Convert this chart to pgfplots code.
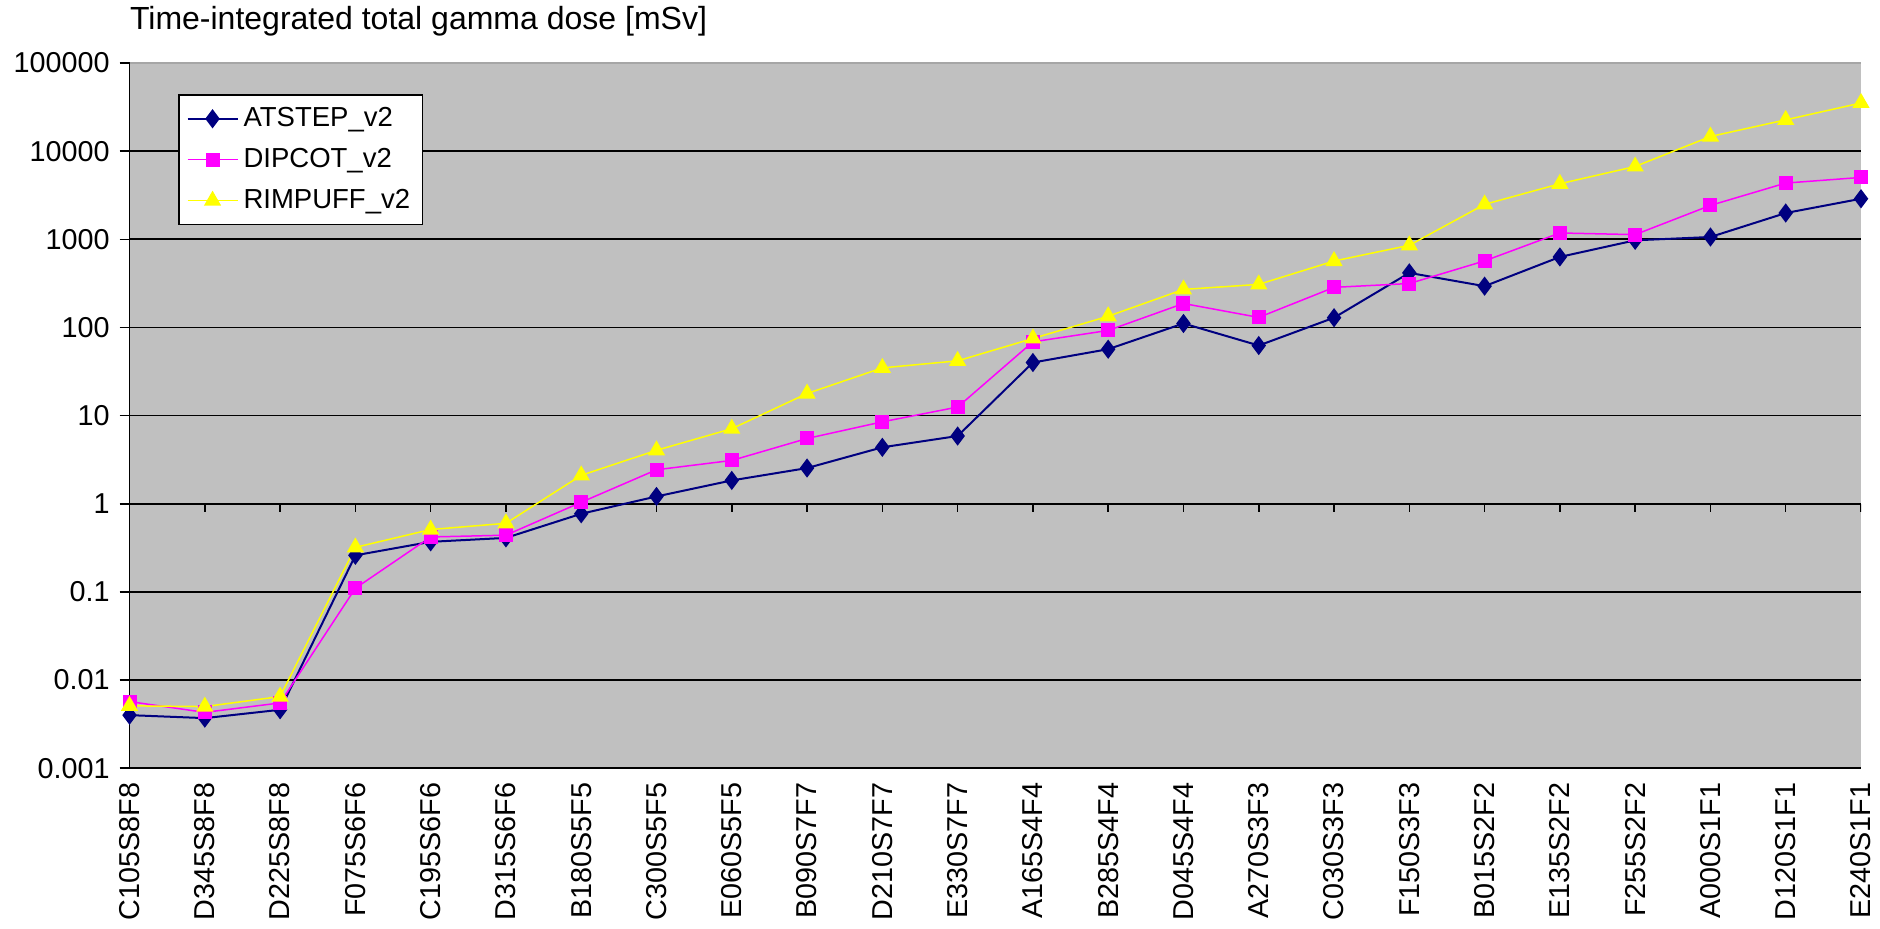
\documentclass[border=0pt]{standalone}
\usepackage{fontspec}
\setmainfont{Liberation Sans}
\usepackage{pgfplots}
\usepackage{pgfplotstable}
\pgfplotsset{compat=1.18}
\definecolor{bgray}{HTML}{C0C0C0}
\definecolor{navyc}{HTML}{000080}
\definecolor{magc}{HTML}{FF00FF}
\definecolor{yelc}{HTML}{FFFF00}

\pgfplotstableread{
x ATSTEP DIPCOT RIMPUFF
0 0.0040 0.0057 0.0051
1 0.0037 0.0043 0.0050
2 0.0046 0.0055 0.0065
3 0.26 0.110 0.32
4 0.37 0.42 0.51
5 0.41 0.44 0.60
6 0.77 1.04 2.1
7 1.21 2.43 4.04
8 1.84 3.1 7.1
9 2.54 5.5 17.8
10 4.37 8.5 34.8
11 5.87 12.5 41.8
12 40 68.7 75
13 56.7 92.5 134
14 111 187 270
15 62.4 130 308
16 129 285 567
17 416 315 855
18 294 569 2490
19 631 1180 4266
20 974 1130 6700
21 1062 2425 14660
22 1987 4345 22650
23 2885 5035 35200
}\data

\begin{document}
\begin{tikzpicture}
\begin{axis}[name=ax, scale only axis, width=692.4pt, height=282pt,
  ymode=log, log basis y=10, ymin=1e-3, ymax=1e5, xmin=0, xmax=23,
  axis background/.style={fill=bgray},
  axis lines*=left, axis line style={black, line width=0.7pt},
  ytick={1e-3,1e-2,1e-1,1,1e1,1e2,1e3,1e4,1e5},
  yticklabels={0.001,0.01,0.1,1,10,100,1000,10000,100000},
  extra y ticks={1e-2,1e-1,1,1e1,1e2,1e3,1e4},
  extra y tick labels={},
  extra y tick style={grid=major, major tick length=0pt},
  grid style={black, line width=0.7pt},
  ytick align=outside, major tick length=4pt,
  ytick style={black, line width=0.6pt},
  yticklabel style={font=\fontsize{11.5}{13}\selectfont, inner xsep=3.8pt},
  xtick={0,...,23},
  xticklabels={C105S8F8,D345S8F8,D225S8F8,F075S6F6,C195S6F6,D315S6F6,B180S5F5,C300S5F5,E060S5F5,B090S7F7,D210S7F7,E330S7F7,A165S4F4,B285S4F4,D045S4F4,A270S3F3,C030S3F3,F150S3F3,B015S2F2,E135S2F2,F255S2F2,A000S1F1,D120S1F1,E240S1F1},
  xtick style={draw=none},
  xticklabel style={font=\fontsize{11.5}{13}\selectfont, rotate=90, anchor=east, inner xsep=5.6pt},
  legend style={at={(0,1)}, anchor=north west, xshift=19.5pt, yshift=-12.4pt,
    draw=black, fill=white, line width=0.6pt, font=\fontsize{11}{13}\selectfont,
    inner xsep=3pt, inner ysep=3pt, row sep=3.2pt},
  legend cell align=left,
  legend image code/.code={\draw[mark repeat=2,mark phase=2] plot coordinates {(0pt,0pt)(10pt,0pt)(20pt,0pt)};},
]
\addplot[navyc, line width=0.8pt, mark=diamond*, mark size=3.2pt, mark options={fill=navyc, draw=navyc, solid}] table[x=x,y=ATSTEP]{\data};
\addlegendentry{ATSTEP\_v2}
\addplot[magc, line width=0.6pt, mark=square*, mark size=2.5pt, mark options={fill=magc, draw=magc, solid}] table[x=x,y=DIPCOT]{\data};
\addlegendentry{DIPCOT\_v2}
\addplot[yelc, line width=0.6pt, mark=triangle*, mark size=3.4pt, mark options={fill=yelc, draw=yelc, solid}] table[x=x,y=RIMPUFF]{\data};
\addlegendentry{RIMPUFF\_v2}
\pgfplotsinvokeforeach{1,...,23}{\draw[black, line width=0.6pt] (axis cs:#1,1) -- ++(0pt,-3.3pt);}
\end{axis}
\draw[gray!70, line width=0.6pt] (ax.north west) -- (ax.north east);
\node[anchor=base west, font=\fontsize{12.8}{15}\selectfont, inner sep=0pt] at ([yshift=13.2pt]ax.north west) {Time-integrated total gamma dose [mSv]};
\pgfresetboundingbox
\path[use as bounding box] ([xshift=-51.8pt,yshift=-64pt]ax.south west) rectangle ([xshift=7.6pt,yshift=25.2pt]ax.north east);
\end{tikzpicture}
\end{document}
